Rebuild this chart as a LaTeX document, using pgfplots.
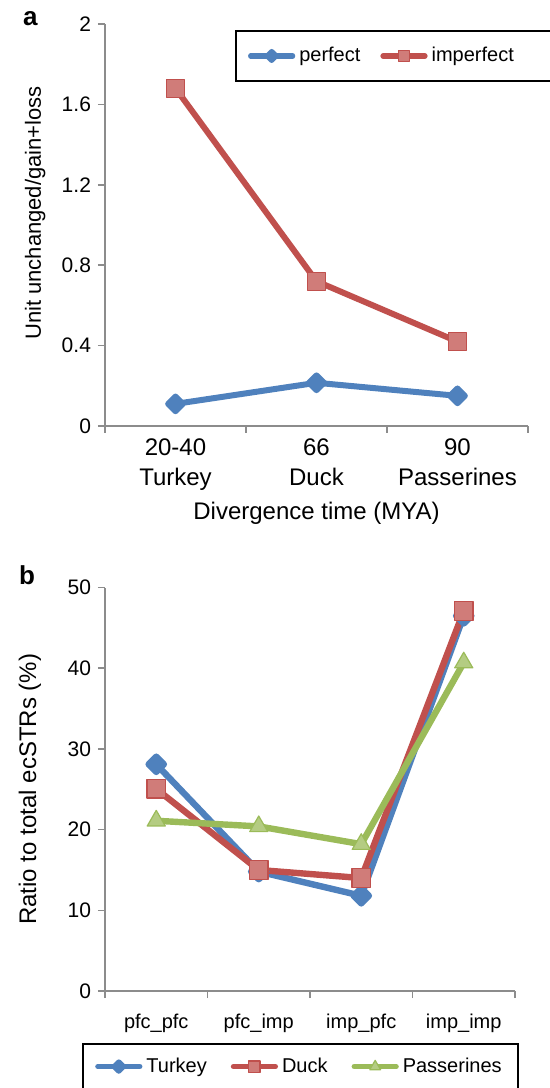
\documentclass[border=0pt]{standalone}
\usepackage{fontspec}
\setmainfont{Liberation Sans}
\usepackage{pgfplots}
\pgfplotsset{compat=1.18}
\definecolor{cblue}{HTML}{4F81BD}
\definecolor{cred}{HTML}{C0504D}
\definecolor{cgreen}{HTML}{9BBB59}
\definecolor{axgray}{HTML}{8C8C8C}
\pgfplotsset{
  common/.style={
    scale only axis,
    axis lines=left,
    axis line style={axgray, line width=0.8pt, -},
    tick align=outside,
    major tick length=3.5pt,
    tick style={axgray, line width=0.8pt},
    clip=false,
    /pgf/number format/assume math mode=true,
    yticklabel style={font=\fontsize{10.5}{12}\selectfont, text=black},
    legend cell align=left,
    legend image code/.code={\draw[mark repeat=2, mark phase=2, line cap=round, #1, line width=2.6pt, /tikz/every mark/.append style={scale=0.6}] plot coordinates {(0pt,0pt) (10.5pt,0pt) (21pt,0pt)};},
  },
  ser/.style={line width=3pt, line cap=round, line join=round, color=#1, mark options={solid, fill=#1!75!white, draw=#1, line width=0.6pt}},
}
\begin{document}
\begin{tikzpicture}
\path[use as bounding box] (0,0) rectangle (275pt,544pt);
% panel a
\begin{axis}[common,
  at={(52.5pt,331pt)}, anchor=south west,
  width=211.5pt, height=201pt,
  xmin=-0.5, xmax=2.5, ymin=0, ymax=2,
  xtick={-0.5,0.5,1.5,2.5}, xticklabels={},
  extra x ticks={0,1,2},
  extra x tick labels={{20-40\\Turkey},{66\\Duck},{90\\Passerines}},
  extra x tick style={major tick length=0pt, xticklabel style={align=center, font=\fontsize{12}{15}\selectfont, yshift=-3pt}},
  ytick={0,0.4,0.8,1.2,1.6,2},
  yticklabels={0,0.4,0.8,1.2,1.6,2},
  xlabel={Divergence time (MYA)},
  xlabel style={font=\fontsize{12}{14}\selectfont, yshift=4.5pt},
  ylabel={Unit unchanged/gain+loss},
  ylabel style={font=\fontsize{11}{14}\selectfont, at={(axis description cs:-0.165,0.53)}, anchor=center},
  legend columns=2,
  legend style={at={(0.307,0.985)}, anchor=north west, draw=black, line width=1.2pt,
    font=\fontsize{10}{12}\selectfont, inner xsep=6pt, inner ysep=6pt,
    /tikz/every even column/.append style={column sep=8pt}},
]
\addplot[ser=cblue, mark=square*, mark options={rotate=45}, mark size=2.6pt] coordinates {(0,0.11) (1,0.215) (2,0.15)};
\addlegendentry{perfect}
\addplot[ser=cred, mark=square*, mark size=4.5pt] coordinates {(0,1.68) (1,0.72) (2,0.42)};
\addlegendentry{imperfect\hbox to 18pt{}}
\end{axis}
\node[anchor=base west, font=\bfseries\fontsize{13}{15}\selectfont] at (8pt,531pt) {a};
% panel b
\begin{axis}[common,
  at={(52.5pt,48.5pt)}, anchor=south west,
  width=205pt, height=201.7pt,
  xmin=-0.5, xmax=3.5, ymin=0, ymax=50,
  xtick={-0.5,0.5,1.5,2.5,3.5}, xticklabels={},
  extra x ticks={0,1,2,3},
  extra x tick labels={pfc\_pfc,pfc\_imp,imp\_pfc,imp\_imp},
  extra x tick style={major tick length=0pt, xticklabel style={font=\fontsize{10}{12}\selectfont, yshift=-8pt}},
  ytick={0,10,20,30,40,50},
  ylabel={Ratio to total ecSTRs (\%)},
  ylabel style={font=\fontsize{12}{14}\selectfont, at={(axis description cs:-0.183,0.5)}, anchor=center},
  legend columns=3,
  legend style={at={(-0.056,-0.128)}, anchor=north west, draw=black, line width=1.2pt,
    font=\fontsize{10}{12}\selectfont, inner xsep=6pt, inner ysep=5pt,
    /tikz/every even column/.append style={column sep=10pt}},
]
\addplot[ser=cblue, mark=square*, mark options={rotate=45}, mark size=2.7pt, line width=3.2pt] coordinates {(0,28.1) (1,14.8) (2,11.8) (3,46.5)};
\addlegendentry{Turkey}
\addplot[ser=cred, mark=square*, mark size=4.6pt, line width=3.2pt] coordinates {(0,25.05) (1,15.0) (2,14.0) (3,47.1)};
\addlegendentry{Duck}
\addplot[ser=cgreen, mark=triangle*, mark size=5.2pt, line width=3.2pt] coordinates {(0,21.1) (1,20.4) (2,18.2) (3,40.7)};
\addlegendentry{Passerines}
\end{axis}
\node[anchor=base west, font=\bfseries\fontsize{13}{15}\selectfont] at (6pt,251.5pt) {b};
\end{tikzpicture}
\end{document}
